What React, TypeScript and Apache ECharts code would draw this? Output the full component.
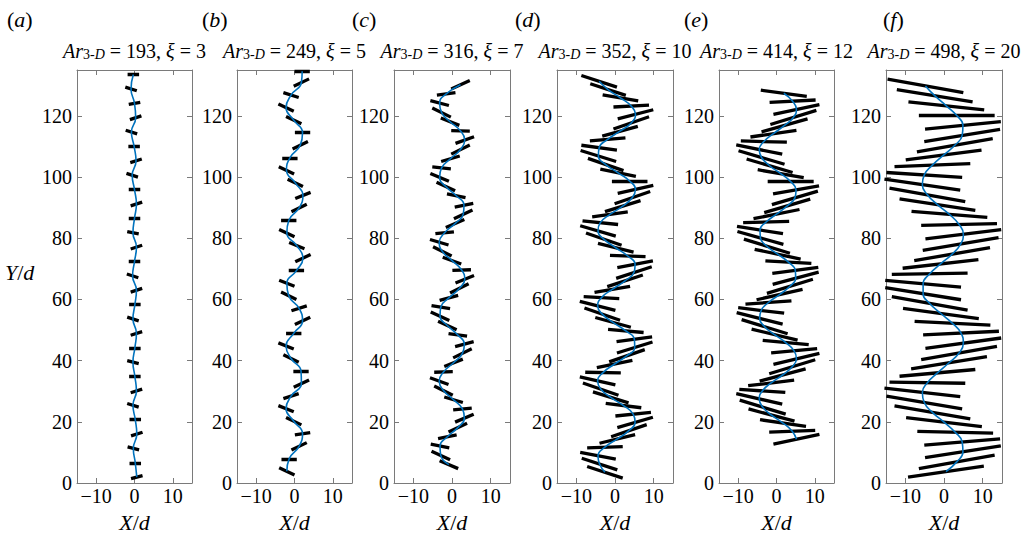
import React, { useEffect, useRef } from 'react';
import * as echarts from 'echarts';

// ---------- labels ----------
const panelLetters = ['a', 'b', 'c', 'd', 'e', 'f'];
const arValues = [193, 249, 316, 352, 414, 498];
const xiValues = [3, 5, 7, 10, 12, 20];
const xTicks = [-10, 0, 10];
const yTicks = [0, 20, 40, 60, 80, 100, 120];

// ---------- panel (a) : centre Y, centre X, half tilt (Y), half width (X) ----------
const aY = [1.9, 6.6, 11.3, 16.0, 20.7, 25.4, 30.1, 34.8, 39.5, 44.2, 48.9, 53.6, 58.3, 63.0, 67.7, 72.4, 77.1, 81.8, 86.5, 91.2, 95.9, 100.6, 105.3, 110.0, 114.7, 119.4, 124.1, 128.8, 133.5];
const aX = [0.6, 0.2, -0.3, 0.6, 0.2, -0.4, 0.5, 0.1, -0.4, 0.1, 0.5, -0.4, 0.1, 0.5, -0.5, 0.0, 0.5, -0.4, 0.0, 0.5, 0.0, -0.6, 0.4, -0.1, -0.8, 0.3, 0.0, -0.9, -0.3];
const aT = [0.5, 0, -0.5, 0.6, 0, -0.6, 0.6, 0, -0.5, 0, 0.6, -0.6, 0, 0.6, -0.6, 0, 0.6, -0.4, 0, 0.6, 0, -0.6, 0.6, 0, -0.6, 0.6, 0.3, -0.6, 0];
const aW = 1.5;

// ---------- panel (b) ----------
const bY = [3.8, 7.9, 12.0, 16.1, 20.2, 24.3, 28.4, 32.5, 36.6, 40.7, 44.8, 48.9, 53.0, 57.1, 61.2, 65.3, 69.4, 73.5, 77.6, 81.7, 85.8, 89.9, 94.0, 98.1, 102.2, 106.3, 110.4, 114.5, 118.6, 122.7, 126.8, 130.9, 134.6];
const bX = [-2.0, -1.4, 1.2, 2.1, -0.2, -2.2, -0.9, 1.8, 1.7, -0.9, -2.2, -0.2, 2.1, 1.2, -1.5, -2.0, 0.5, 2.2, 0.6, -2.0, -1.5, 1.2, 2.2, 0.2, -2.1, -1.2, 1.5, 2.1, -0.2, -2.2, -0.9, 1.8, 2.0];
const bT = [-1.2, 0, 1.2, 0.4, -1.2, -1.0, 0.8, 1.2, 0, -1.2, -1.0, 0, 1.2, 0.8, -1.2, -1.0, 0, 1.2, -1.0, -1.2, 0, 1.2, 1.0, -1.2, -1.2, 0, 1.2, 0, -1.2, -1.2, -0.8, 1.2, 0];
const bW = 2.0;

// ---------- panel (c) ----------
const cY = [6.0, 9.0, 12.1, 15.1, 18.1, 21.2, 24.2, 27.2, 30.2, 33.3, 36.3, 39.3, 42.4, 45.4, 48.4, 51.5, 54.5, 57.5, 60.5, 63.6, 66.6, 69.6, 72.7, 75.7, 78.7, 81.8, 84.8, 87.8, 90.8, 93.9, 96.9, 99.9, 103.0, 106.0, 109.0, 112.1, 115.1, 118.1, 121.1, 124.2, 127.2, 130.2];
const cX = [-0.8, -2.9, -3.1, -1.2, 1.5, 3.2, 2.7, 0.4, -2.2, -3.3, -2.2, 0.4, 2.7, 3.2, 1.5, -1.2, -3.1, -2.9, -0.8, 1.9, 3.3, 2.5, 0.0, -2.5, -3.3, -1.9, 0.8, 2.9, 3.1, 1.1, -1.6, -3.2, -2.7, -0.4, 2.2, 3.3, 2.2, -0.5, -2.7, -3.2, -1.5, 2.2];
const cT = [-1.3, -1.4, -0.6, 0.6, 1.4, 1.3, 0.3, -0.9, -1.5, -1.1, 0.1, 1.2, 1.5, 0.8, -0.4, -1.4, -1.4, -0.5, 0.8, 1.5, 1.2, 0.1, -1.1, -1.5, -0.9, 0.3, 1.3, 1.4, 0.6, -0.6, -1.4, -1.3, -0.3, 0.9, 1.5, 1.1, -0.1, -1.2, -1.5, -0.8, 0.4, 1.4];
const cW = 2.4;

// ---------- panel (d) ----------
const dY = [3.5, 6.2, 8.9, 11.7, 14.4, 17.1, 19.8, 22.5, 25.3, 28.0, 30.7, 33.4, 36.1, 38.9, 41.6, 44.3, 47.0, 49.7, 52.5, 55.2, 57.9, 60.6, 63.3, 66.1, 68.8, 71.5, 74.2, 76.9, 79.7, 82.4, 85.1, 87.8, 90.5, 93.3, 96.0, 98.7, 101.4, 104.1, 106.9, 109.6, 112.3, 115.0, 117.7, 120.5, 123.2, 125.9, 128.6, 131.3];
const dX = [-2.6, -4.0, -4.4, -2.6, 0.6, 3.6, 5.2, 4.7, 2.2, -1.1, -3.7, -4.5, -3.1, -0.1, 3.1, 5.1, 5.0, 2.8, -0.5, -3.3, -4.5, -3.5, -0.7, 2.6, 4.9, 5.2, 3.3, 0.2, -2.9, -4.4, -3.8, -1.3, 2.0, 4.5, 5.3, 3.8, 0.8, -2.4, -4.3, -4.1, -1.9, 1.3, 4.2, 5.3, 4.2, 1.4, -1.8, -4.1];
const dT = [-1.9, -1.9, -1.1, 0.2, 1.4, 2.0, 1.7, 0.6, -0.7, -1.8, -2.0, -1.3, -0.1, 1.2, 2.0, 1.8, 0.8, -0.5, -1.6, -2.0, -1.5, -0.3, 1.0, 1.9, 1.9, 1.1, -0.2, -1.4, -2.0, -1.7, -0.6, 0.8, 1.8, 2.0, 1.3, 0.0, -1.2, -2.0, -1.8, -0.8, 0.5, 1.6, 2.0, 1.5, 0.3, -1.0, -1.9, -1.9];
const dW = 4.6;

// ---------- panel (e) ----------
const eY = [14.3, 16.9, 19.6, 22.2, 24.8, 27.5, 30.1, 32.7, 35.3, 38.0, 40.6, 43.2, 45.9, 48.5, 51.1, 53.8, 56.4, 59.0, 61.6, 64.3, 66.9, 69.5, 72.2, 74.8, 77.4, 80.1, 82.7, 85.3, 87.9, 90.6, 93.2, 95.8, 98.5, 101.1, 103.7, 106.4, 109.0, 111.6, 114.2, 116.9, 119.5, 122.1, 124.8, 127.4];
const eX = [5.2, 4.1, 1.7, -1.3, -3.6, -4.5, -3.7, -1.4, 1.6, 4.1, 5.2, 4.6, 2.4, -0.5, -3.1, -4.4, -4.0, -2.1, 0.8, 3.5, 5.0, 4.9, 3.1, 0.3, -2.5, -4.2, -4.3, -2.7, 0.0, 2.8, 4.8, 5.1, 3.7, 1.1, -1.8, -3.9, -4.5, -3.3, -0.8, 2.1, 4.4, 5.2, 4.2, 1.9];
const eT = [1.6, 0.3, -1.1, -2.0, -2.3, -1.7, -0.5, 0.9, 2.0, 2.3, 1.8, 0.7, -0.7, -1.8, -2.3, -1.9, -0.9, 0.5, 1.7, 2.3, 2.0, 1.0, -0.4, -1.6, -2.3, -2.1, -1.2, 0.2, 1.5, 2.2, 2.2, 1.3, 0.0, -1.3, -2.2, -2.2, -1.5, -0.2, 1.1, 2.1, 2.3, 1.6, 0.4, -1.0];
const eW = 6.0;

// ---------- panel (f) ----------
const fY = [3.7, 6.9, 10.2, 13.4, 16.6, 19.9, 23.1, 26.3, 29.6, 32.8, 36.0, 39.3, 42.5, 45.7, 49.0, 52.2, 55.4, 58.7, 61.9, 65.1, 68.4, 71.6, 74.8, 78.1, 81.3, 84.5, 87.8, 91.0, 94.2, 97.5, 100.7, 103.9, 107.2, 110.4, 113.6, 116.9, 120.1, 123.3, 126.6, 129.8];
const fX = [0.5, 3.3, 4.9, 4.7, 2.9, 0.0, -3.0, -5.1, -5.6, -4.3, -1.7, 1.3, 3.9, 5.0, 4.4, 2.2, -0.8, -3.7, -5.4, -5.4, -3.7, -0.9, 2.1, 4.3, 5.0, 3.9, 1.4, -1.7, -4.3, -5.6, -5.1, -3.0, -0.1, 2.8, 4.7, 4.9, 3.3, 0.6, -2.4, -4.8];
const fT = [1.8, 2.2, 1.9, 1.0, -0.3, -1.5, -2.1, -2.1, -1.4, -0.2, 1.1, 2.0, 2.2, 1.7, 0.6, -0.6, -1.7, -2.2, -2.0, -1.1, 0.2, 1.4, 2.1, 2.1, 1.5, 0.3, -1.0, -1.9, -2.2, -1.8, -0.8, 0.5, 1.6, 2.2, 2.0, 1.2, 0.0, -1.3, -2.0, -2.2];
const fW = 9.8;

const panels = [
  { Y: aY, X: aX, T: aT, W: aW },
  { Y: bY, X: bX, T: bT, W: bW },
  { Y: cY, X: cX, T: cT, W: cW },
  { Y: dY, X: dX, T: dT, W: dW },
  { Y: eY, X: eX, T: eT, W: eW },
  { Y: fY, X: fX, T: fT, W: fW },
];

// ---------- layout ----------
const FONT = "'Times New Roman', 'Liberation Serif', 'DejaVu Serif', serif";
const AXIS_COLOR = '#7a7a7a';
const gridLefts = [77, 237, 394, 557, 719, 886];
const gridWidths = [115, 115, 116, 116, 115, 116];
const gridTop = 70;
const gridHeight = 413;
const letterX = [7, 202, 352, 515, 684, 883];

const minusFmt = (v: number) => (v < 0 ? '\u2212' + Math.abs(v) : String(v));

function buildOption() {
  const grid: any[] = [];
  const xAxis: any[] = [];
  const yAxis: any[] = [];
  const series: any[] = [];
  const graphic: any[] = [];

  const tickStyle = { color: AXIS_COLOR, width: 1 };

  panels.forEach((p, i) => {
    grid.push({
      left: gridLefts[i],
      top: gridTop,
      width: gridWidths[i],
      height: gridHeight,
      outerBoundsMode: 'none',
      containLabel: false,
    });
    const xBase = {
      gridIndex: i,
      type: 'value',
      min: -15,
      max: 15,
      splitLine: { show: false },
      axisLine: { show: true, onZero: false, lineStyle: tickStyle },
      axisTick: { show: true, inside: true, length: 5, customValues: xTicks, lineStyle: tickStyle },
    };
    xAxis.push({
      ...xBase,
      position: 'bottom',
      axisLabel: {
        customValues: xTicks,
        formatter: minusFmt,
        color: '#000',
        fontFamily: FONT,
        fontSize: 20,
        margin: 3,
      },
    });
    xAxis.push({ ...xBase, position: 'top', axisLabel: { show: false } });
    const yBase = {
      gridIndex: i,
      type: 'value',
      min: 0,
      max: 135,
      splitLine: { show: false },
      axisLine: { show: true, onZero: false, lineStyle: tickStyle },
      axisTick: { show: true, inside: true, length: 5, customValues: yTicks, lineStyle: tickStyle },
    };
    yAxis.push({
      ...yBase,
      position: 'left',
      axisLabel: {
        customValues: yTicks,
        color: '#000',
        fontFamily: FONT,
        fontSize: 20,
        margin: 5,
      },
    });
    yAxis.push({ ...yBase, position: 'right', axisLabel: { show: false } });

    const segs = p.Y.map((y, k) => ({
      coords: [
        [p.X[k] - p.W, y - p.T[k]],
        [p.X[k] + p.W, y + p.T[k]],
      ],
    }));
    series.push({
      type: 'lines',
      coordinateSystem: 'cartesian2d',
      xAxisIndex: 2 * i,
      yAxisIndex: 2 * i,
      data: segs,
      polyline: false,
      clip: true,
      silent: true,
      z: 2,
      lineStyle: { color: '#000', width: 3.3, opacity: 1, cap: 'butt', curveness: 0 },
    });
    series.push({
      type: 'line',
      xAxisIndex: 2 * i,
      yAxisIndex: 2 * i,
      data: p.Y.map((y, k) => [p.X[k], y]),
      smooth: true,
      showSymbol: false,
      symbol: 'none',
      clip: true,
      silent: true,
      z: 3,
      lineStyle: { color: '#0072BD', width: 1.6 },
    });

    const cx = gridLefts[i] + gridWidths[i] / 2;
    graphic.push({
      type: 'text',
      x: cx,
      y: 54,
      style: {
        text: `{i|Ar}{s|3-}{si|D}{n| = ${arValues[i]}, }{i|\u03be}{n| = ${xiValues[i]}}`,
        align: 'center',
        verticalAlign: 'middle',
        fontFamily: FONT,
        rich: {
          i: { fontFamily: FONT, fontStyle: 'italic', fontSize: 20, color: '#000', padding: [0, 0, 7, 0] },
          n: { fontFamily: FONT, fontSize: 20, color: '#000', padding: [0, 0, 7, 0] },
          s: { fontFamily: FONT, fontSize: 14, color: '#000' },
          si: { fontFamily: FONT, fontStyle: 'italic', fontSize: 14, color: '#000' },
        },
      },
    });
    graphic.push({
      type: 'text',
      x: letterX[i],
      y: 19,
      style: {
        text: `{n|(}{i|${panelLetters[i]}}{n|)}`,
        align: 'left',
        verticalAlign: 'middle',
        fontFamily: FONT,
        rich: {
          i: { fontFamily: FONT, fontStyle: 'italic', fontSize: 22, color: '#000' },
          n: { fontFamily: FONT, fontSize: 22, color: '#000' },
        },
      },
    });
    graphic.push({
      type: 'text',
      x: cx,
      y: 522,
      style: {
        text: '{i|X}{n|/}{i|d}',
        align: 'center',
        verticalAlign: 'middle',
        fontFamily: FONT,
        rich: {
          i: { fontFamily: FONT, fontStyle: 'italic', fontSize: 22, color: '#000' },
          n: { fontFamily: FONT, fontSize: 22, color: '#000' },
        },
      },
    });
  });

  graphic.push({
    type: 'text',
    x: 5,
    y: 272,
    style: {
      text: '{i|Y}{n|/}{i|d}',
      align: 'left',
      verticalAlign: 'middle',
      fontFamily: FONT,
      rich: {
        i: { fontFamily: FONT, fontStyle: 'italic', fontSize: 22, color: '#000' },
        n: { fontFamily: FONT, fontSize: 22, color: '#000' },
      },
    },
  });

  return {
    animation: false,
    backgroundColor: '#fff',
    textStyle: { fontFamily: FONT },
    grid,
    xAxis,
    yAxis,
    series,
    graphic,
  };
}

export default function App() {
  const ref = useRef<HTMLDivElement>(null);
  useEffect(() => {
    if (!ref.current) return;
    const chart = echarts.init(ref.current, null, { renderer: 'svg' });
    chart.setOption(buildOption() as any);
    return () => chart.dispose();
  }, []);
  return (
    <div
      ref={ref}
      style={{ position: 'fixed', left: 0, top: 0, width: 1030, height: 539, background: '#fff' }}
    />
  );
}
